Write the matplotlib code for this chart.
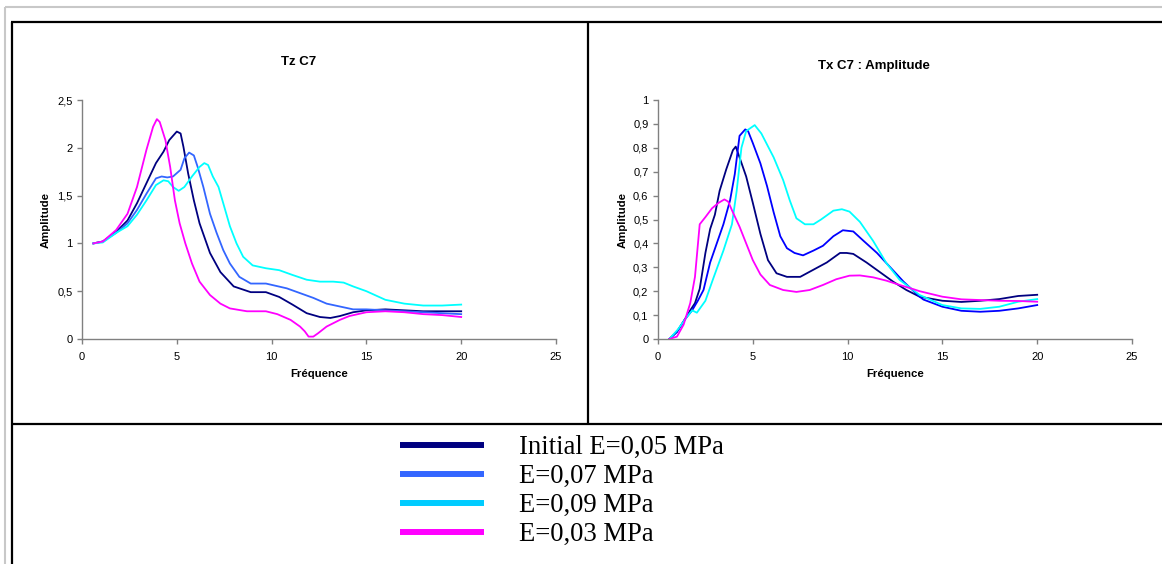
import matplotlib
matplotlib.use("Agg")
import matplotlib.pyplot as plt
from matplotlib.lines import Line2D

# ---------------- data ----------------
x_ticks = [0, 5, 10, 15, 20, 25]
x_tick_labels = ["0", "5", "10", "15", "20", "25"]
tz_y_ticks = [0, 0.5, 1, 1.5, 2, 2.5]
tz_y_tick_labels = ["0", "0,5", "1", "1,5", "2", "2,5"]
tx_y_ticks = [0, 0.1, 0.2, 0.3, 0.4, 0.5, 0.6, 0.7, 0.8, 0.9, 1]
tx_y_tick_labels = ["0", "0,1", "0,2", "0,3", "0,4", "0,5", "0,6", "0,7", "0,8", "0,9", "1"]

series_labels = ["Initial E=0,05 MPa", "E=0,07 MPa", "E=0,09 MPa", "E=0,03 MPa"]

# Tz C7
tz_e05_x = [0.6, 1.1, 1.8, 2.4, 2.9, 3.4, 3.9, 4.3, 4.6, 5.0, 5.2, 5.35, 5.6, 5.9, 6.2, 6.75, 7.3, 8.0, 8.9, 9.7,
            10.4, 11.1, 11.85, 12.55, 13.1, 13.6, 14.3, 15, 16, 17, 18, 20]
tz_e05_y = [1.00, 1.02, 1.12, 1.24, 1.42, 1.63, 1.84, 1.96, 2.08, 2.17, 2.15, 2.01, 1.73, 1.45, 1.21, 0.90, 0.70, 0.55, 0.49, 0.49,
            0.44, 0.36, 0.27, 0.23, 0.22, 0.24, 0.28, 0.30, 0.31, 0.30, 0.29, 0.29]

tz_e07_x = [0.6, 1.1, 1.8, 2.4, 2.9, 3.4, 3.9, 4.2, 4.5, 4.8, 5.2, 5.4, 5.65, 5.9, 6.1, 6.4, 6.75, 7.1, 7.45, 7.8, 8.3,
            8.9, 9.7, 10.8, 11.5, 12.2, 12.9, 13.6, 14.3, 15, 16, 18, 20]
tz_e07_y = [1.00, 1.02, 1.11, 1.21, 1.35, 1.52, 1.68, 1.70, 1.69, 1.70, 1.77, 1.89, 1.95, 1.92, 1.80, 1.59, 1.31, 1.11, 0.93, 0.79, 0.65,
            0.58, 0.58, 0.53, 0.48, 0.43, 0.37, 0.34, 0.31, 0.31, 0.30, 0.28, 0.26]

tz_e09_x = [0.6, 1.1, 1.8, 2.4, 2.9, 3.4, 3.9, 4.3, 4.55, 4.8, 5.1, 5.4, 5.8, 6.2, 6.45, 6.65, 6.9, 7.2, 7.45, 7.8, 8.15,
            8.5, 9.0, 9.7, 10.4, 11.1, 11.85, 12.55, 13.25, 13.8, 14.3, 15, 16, 17, 18, 19, 20]
tz_e09_y = [1.00, 1.01, 1.11, 1.18, 1.30, 1.45, 1.61, 1.66, 1.65, 1.59, 1.55, 1.59, 1.70, 1.80, 1.84, 1.82, 1.70, 1.59, 1.42, 1.18, 1.00,
            0.86, 0.77, 0.74, 0.72, 0.67, 0.62, 0.60, 0.60, 0.59, 0.55, 0.50, 0.41, 0.37, 0.35, 0.35, 0.36]

tz_e03_x = [0.6, 1.1, 1.8, 2.4, 2.9, 3.4, 3.75, 3.95, 4.1, 4.4, 4.65, 4.9, 5.15, 5.45, 5.8, 6.2, 6.75, 7.3, 7.8, 8.7, 9.7,
            10.3, 11.0, 11.5, 11.75, 11.95, 12.2, 12.45, 12.9, 13.6, 14.1, 15, 16, 17, 18, 19, 20]
tz_e03_y = [1.00, 1.02, 1.14, 1.31, 1.59, 1.98, 2.22, 2.30, 2.27, 2.08, 1.80, 1.45, 1.21, 1.00, 0.79, 0.60, 0.46, 0.37, 0.32, 0.29, 0.29,
            0.26, 0.20, 0.13, 0.08, 0.025, 0.025, 0.06, 0.13, 0.20, 0.24, 0.28, 0.29, 0.28, 0.26, 0.25, 0.23]

# Tx C7 : Amplitude
tx_e05_x = [0.6, 1.0, 1.4, 1.7, 1.95, 2.2, 2.5, 2.75, 3.0, 3.25, 3.6, 3.95, 4.1, 4.3, 4.65, 5.0, 5.4, 5.8, 6.25, 6.8, 7.5,
            8.2, 8.9, 9.6, 9.95, 10.3, 11.0, 11.7, 12.4, 13.1, 13.8, 15, 16, 17, 18, 19, 20]
tx_e05_y = [0.0, 0.03, 0.08, 0.12, 0.15, 0.21, 0.36, 0.46, 0.52, 0.62, 0.71, 0.79, 0.805, 0.76, 0.68, 0.57, 0.44, 0.33, 0.275, 0.26, 0.26,
            0.29, 0.32, 0.36, 0.36, 0.356, 0.32, 0.28, 0.24, 0.205, 0.177, 0.16, 0.155, 0.16, 0.167, 0.18, 0.185]

tx_e07_x = [0.6, 1.0, 1.4, 1.8, 2.1, 2.4, 2.75, 3.1, 3.45, 3.8, 4.05, 4.3, 4.6, 4.75, 5.0, 5.4, 5.75, 6.1, 6.45, 6.8, 7.2,
            7.65, 8.2, 8.7, 9.25, 9.75, 10.3, 10.85, 11.55, 12.25, 12.95, 13.8, 14, 15, 16, 17, 18, 19, 20]
tx_e07_y = [0.0, 0.03, 0.08, 0.12, 0.16, 0.205, 0.32, 0.40, 0.48, 0.58, 0.69, 0.85, 0.877, 0.87, 0.82, 0.735, 0.64, 0.53, 0.43, 0.38, 0.36,
            0.35, 0.37, 0.39, 0.43, 0.455, 0.45, 0.41, 0.36, 0.30, 0.24, 0.177, 0.165, 0.135, 0.118, 0.114, 0.118, 0.128, 0.142]

tx_e09_x = [0.6, 1.05, 1.5, 1.8, 2.05, 2.5, 2.9, 3.45, 3.9, 4.15, 4.4, 4.65, 5.1, 5.45, 6.1, 6.6, 6.95, 7.3, 7.75, 8.2, 8.6,
            9.25, 9.7, 10.1, 10.65, 11.35, 12.05, 12.75, 13.45, 13.8, 15, 16, 17, 18, 19, 20]
tx_e09_y = [0.0, 0.04, 0.09, 0.12, 0.11, 0.16, 0.25, 0.37, 0.48, 0.62, 0.80, 0.87, 0.895, 0.86, 0.76, 0.665, 0.58, 0.505, 0.48, 0.48, 0.50,
            0.537, 0.543, 0.533, 0.49, 0.41, 0.317, 0.247, 0.205, 0.184, 0.142, 0.128, 0.126, 0.135, 0.156, 0.167]

tx_e03_x = [0.6, 1.0, 1.35, 1.7, 1.95, 2.2, 2.5, 2.85, 3.2, 3.5, 3.7, 3.95, 4.3, 4.65, 5.0, 5.4, 5.9, 6.6, 7.3, 8.0, 8.7,
            9.4, 10.1, 10.65, 11.35, 12.05, 12.75, 13.45, 13.8, 15, 16, 17, 18, 19, 20]
tx_e03_y = [0.0, 0.01, 0.06, 0.15, 0.26, 0.48, 0.51, 0.547, 0.57, 0.584, 0.575, 0.53, 0.47, 0.40, 0.33, 0.27, 0.226, 0.205, 0.197, 0.205, 0.226,
            0.25, 0.265, 0.266, 0.258, 0.244, 0.226, 0.209, 0.20, 0.177, 0.166, 0.163, 0.16, 0.159, 0.156]

# ---------------- style ----------------
W, H = 1162, 564
SANS = ["Liberation Sans", "DejaVu Sans"]
SERIF = ["Liberation Serif", "DejaVu Serif"]
tz_colors = ["#000080", "#3366FF", "#00FFFF", "#FF00FF"]
tx_colors = ["#000080", "#0000FF", "#00FFFF", "#FF00FF"]
legend_colors = ["#000080", "#3366FF", "#00CCFF", "#FF00FF"]

fig = plt.figure(figsize=(W / 100, H / 100), dpi=100)
fig.patch.set_facecolor("white")


def px(x):
    return x / W


def py(y):
    return 1 - y / H


def hline(y, x0, x1, color, lw):
    fig.add_artist(Line2D([px(x0), px(x1)], [py(y), py(y)], transform=fig.transFigure, color=color, lw=lw,
                          solid_capstyle="butt"))


def vline(x, y0, y1, color, lw):
    fig.add_artist(Line2D([px(x), px(x)], [py(y0), py(y1)], transform=fig.transFigure, color=color, lw=lw,
                          solid_capstyle="butt"))


# outer gray frame and black table border
hline(7, 5, W, "#c8c8c8", 1.5)
vline(5, 7, H, "#c8c8c8", 1.5)
hline(22, 11, W, "black", 1.6)
vline(12, 22, H, "black", 1.6)
vline(587.5, 22, 424, "black", 1.6)
hline(424, 11, W, "black", 1.6)


def style_axes(ax, yticks, ylabels, ymax, xlab_y, ylab_x):
    ax.set_xlim(0, 25)
    ax.set_ylim(0, ymax)
    ax.set_xticks(x_ticks)
    ax.set_xticklabels(x_tick_labels, family=SANS, fontsize=8)
    ax.set_yticks(yticks)
    ax.set_yticklabels(ylabels, family=SANS, fontsize=8)
    for s in ["top", "right"]:
        ax.spines[s].set_visible(False)
    for s in ["left", "bottom"]:
        ax.spines[s].set_color("#808080")
        ax.spines[s].set_linewidth(1.0)
    ax.tick_params(axis="both", direction="out", length=3.6, width=1.0, color="#808080")
    ax.tick_params(axis="x", pad=6)
    ax.tick_params(axis="y", pad=3.3)
    ax.set_xlabel("Fréquence", family=SANS, fontsize=8.2, fontweight="bold")
    ax.set_ylabel("Amplitude", family=SANS, fontsize=8.2, fontweight="bold")
    ax.xaxis.set_label_coords(0.5, xlab_y)
    ax.yaxis.set_label_coords(ylab_x, 0.5)
    ax.patch.set_alpha(0)


ax_bottom = (H - 339) / H
ax_height = 239 / H
ax_width = 474 / W

ax1 = fig.add_axes([82 / W, ax_bottom, ax_width, ax_height])
tz_series = [(tz_e05_x, tz_e05_y), (tz_e07_x, tz_e07_y), (tz_e09_x, tz_e09_y), (tz_e03_x, tz_e03_y)]
for (xs, ys), c, lab in zip(tz_series, tz_colors, series_labels):
    ax1.plot(xs, ys, color=c, lw=1.3, label=lab, solid_joinstyle="round")
style_axes(ax1, tz_y_ticks, tz_y_tick_labels, 2.5, -0.125, -0.066)

ax2 = fig.add_axes([658 / W, ax_bottom, ax_width, ax_height])
tx_series = [(tx_e05_x, tx_e05_y), (tx_e07_x, tx_e07_y), (tx_e09_x, tx_e09_y), (tx_e03_x, tx_e03_y)]
for (xs, ys), c, lab in zip(tx_series, tx_colors, series_labels):
    ax2.plot(xs, ys, color=c, lw=1.3, label=lab, solid_joinstyle="round")
style_axes(ax2, tx_y_ticks, tx_y_tick_labels, 1.0, -0.125, -0.064)

fig.text(px(299), py(62), "Tz C7", family=SANS, fontsize=9.5, fontweight="bold", ha="center", va="center")
fig.text(px(874), py(66), "Tx C7 : Amplitude", family=SANS, fontsize=9.5, fontweight="bold", ha="center",
         va="center")

# legend
handles = [Line2D([0], [0], color=c, lw=4.3, solid_capstyle="butt") for c in legend_colors]
leg = fig.legend(handles, series_labels, loc="upper left", bbox_to_anchor=(px(400), py(435)),
                 frameon=False, prop={"family": SERIF, "size": 19.2}, handlelength=3.15, handletextpad=1.3,
                 labelspacing=0.15, borderpad=0, borderaxespad=0)

fig.savefig("out.png", dpi=100, facecolor="white")
